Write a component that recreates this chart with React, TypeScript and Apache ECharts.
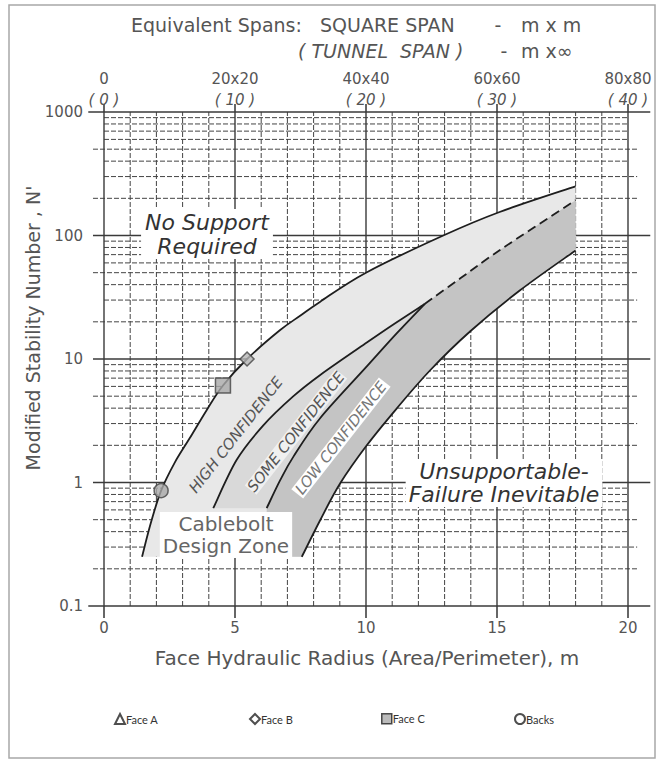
import React, { useEffect, useRef } from "react";
import * as echarts from "echarts";

// ---------- axes ----------
const X_MAJOR = [0, 5, 10, 15, 20];
const TOP_SQUARE_SPAN = ["0", "20x20", "40x40", "60x60", "80x80"];
const TOP_TUNNEL_SPAN = ["( 0 )", "( 10 )", "( 20 )", "( 30 )", "( 40 )"];
const Y_DECADES = [0.1, 1, 10, 100, 1000];
const Y_TICK_LABELS = ["0.1", "1", "10", "100", "1000"];
const MINOR_MULTIPLIERS = [2, 3, 4, 5, 6, 7, 8, 9];

// ---------- design curves [hydraulic radius (m), N'] ----------
const UPPER_BOUND = [
  [1.45, 0.25], [1.8, 0.48], [2.18, 0.86], [2.7, 1.45], [3.28, 2.3], [3.9, 3.8],
  [4.54, 6.1], [5.46, 10], [6.7, 17], [7.5, 22.5], [8.24, 29], [10.0, 50],
  [12.95, 100], [15.1, 155], [18.0, 250],
];
const HIGH_CONF_BOUND = [
  [4.17, 0.62], [5.06, 1.52], [6.08, 2.9], [7.23, 5.0], [8.24, 7.4],
  [10.03, 13.6], [11.1, 19.4], [12.25, 28],
];
const SOME_CONF_BOUND = [
  [6.21, 0.62], [6.72, 1.04], [7.23, 1.62], [8.24, 3.3], [10.03, 8.7],
  [11.17, 16.1], [12.25, 28],
];
const TRANSITION_DASHED = [[12.25, 28], [13.6, 45], [15.1, 76], [18.0, 193]];
const LOWER_BOUND = [
  [7.55, 0.25], [8.24, 0.49], [9.01, 0.98], [10.03, 2.0], [11.17, 3.97],
  [12.44, 8.07], [13.97, 16.7], [15.88, 36], [18.0, 75.7],
];
const ZONE_FLOOR = 0.25;

// ---------- case histories ----------
const FACE_A: number[][] = [];
const FACE_B = [[5.46, 10]];
const FACE_C = [[4.54, 6.1]];
const BACKS = [[2.18, 0.86]];

const FONT = '"DejaVu Sans", sans-serif';
const TXT = "#555";

function catmull(pts: number[][], move: boolean): string {
  let d = (move ? "M" : "L") + pts[0][0].toFixed(2) + "," + pts[0][1].toFixed(2);
  for (let i = 0; i < pts.length - 1; i++) {
    const p0 = pts[i - 1] || pts[i];
    const p1 = pts[i];
    const p2 = pts[i + 1];
    const p3 = pts[i + 2] || pts[i + 1];
    const c1x = p1[0] + (p2[0] - p0[0]) / 6;
    const c1y = p1[1] + (p2[1] - p0[1]) / 6;
    const c2x = p2[0] - (p3[0] - p1[0]) / 6;
    const c2y = p2[1] - (p3[1] - p1[1]) / 6;
    d +=
      "C" + c1x.toFixed(2) + "," + c1y.toFixed(2) + "," + c2x.toFixed(2) + "," +
      c2y.toFixed(2) + "," + p2[0].toFixed(2) + "," + p2[1].toFixed(2);
  }
  return d;
}

function line(a: number[], b: number[], style: any) {
  return { type: "line", shape: { x1: a[0], y1: a[1], x2: b[0], y2: b[1] }, style };
}

const renderGrid = (_params: any, api: any) => {
  const children: any[] = [];
  const solid = { stroke: "#3a3a3a", lineWidth: 1.4 };
  const dashed = { stroke: "#444", lineWidth: 1, lineDash: [5, 2] };
  for (const dec of Y_DECADES.slice(0, 4)) {
    for (const m of MINOR_MULTIPLIERS) {
      const v = dec * m;
      const x0 = m === 2 || m === 5 ? -0.42 : 0;
      const x1 = m === 2 || m === 3 || m === 5 ? 20.35 : 20;
      children.push(line(api.coord([x0, v]), api.coord([x1, v]), dashed));
    }
  }
  for (let x = 0; x <= 20; x++) {
    const major = X_MAJOR.indexOf(x) >= 0;
    children.push(line(api.coord([x, 0.1]), api.coord([x, 1000]), major ? solid : dashed));
  }
  Y_DECADES.forEach((v, i) => {
    const edge = i === 0 || i === Y_DECADES.length - 1;
    children.push(line(api.coord([edge ? -0.6 : -0.42, v]), api.coord([20.85, v]), solid));
  });
  return { type: "group", children };
};

const renderZones = (_params: any, api: any) => {
  const px = (arr: number[][]) => arr.map((p) => api.coord(p));
  const rev = (a: number[][]) => a.slice().reverse();
  const up = px(UPPER_BOUND);
  const hi = px(HIGH_CONF_BOUND);
  const so = px(SOME_CONF_BOUND);
  const da = px(TRANSITION_DASHED);
  const lo = px(LOWER_BOUND);
  const floorPt = api.coord([SOME_CONF_BOUND[0][0], ZONE_FLOOR]);

  const basePath = catmull(up, true) + catmull(rev(lo), false) + "Z";
  const somePath = catmull(hi, true) + catmull(rev(so), false) + "Z";
  const lowPath =
    catmull(so, true) + catmull(da, false) + catmull(rev(lo), false) +
    "L" + floorPt[0].toFixed(2) + "," + floorPt[1].toFixed(2) + "Z";

  const stroke = { fill: "none", stroke: "#1e1e1e", lineWidth: 1.8 };
  return {
    type: "group",
    children: [
      { type: "path", shape: { pathData: basePath }, style: { fill: "#e8e8e8" } },
      { type: "path", shape: { pathData: somePath }, style: { fill: "#d9d9d9" } },
      { type: "path", shape: { pathData: lowPath }, style: { fill: "#c4c4c4" } },
      { type: "path", shape: { pathData: catmull(up, true) }, style: stroke },
      { type: "path", shape: { pathData: catmull(hi, true) }, style: stroke },
      { type: "path", shape: { pathData: catmull(so, true) }, style: stroke },
      { type: "path", shape: { pathData: catmull(lo, true) }, style: stroke },
      { type: "path", shape: { pathData: catmull(da, true) }, style: { ...stroke, lineDash: [9, 5] } },
    ],
  };
};

function txt(text: string, x: number, y: number, size: number, extra: any = {}, align = "left") {
  return {
    type: "text",
    x,
    y,
    z: 100,
    silent: true,
    style: {
      text,
      fontSize: size,
      fontFamily: FONT,
      fill: TXT,
      align,
      verticalAlign: "middle",
      ...extra,
    },
  };
}

export default function App() {
  const ref = useRef<HTMLDivElement>(null);
  useEffect(() => {
    document.body.style.margin = "0";
    const chart = echarts.init(ref.current!, null, { renderer: "svg" });
    const deg = Math.PI / 180;
    const legendNames = ["Face A", "Face B", "Face C", "Backs"];
    const legendIcons = ["triangle", "diamond", "rect", "circle"];
    const legendLeft = [109, 244, 376, 509];
    const option: any = {
      animation: false,
      backgroundColor: "#ffffff",
      grid: { left: 104, right: 35, top: 112, bottom: 154 },
      xAxis: [
        {
          type: "value",
          position: "bottom",
          min: 0,
          max: 20,
          interval: 5,
          axisLine: { show: false },
          axisTick: { show: true, length: 12, lineStyle: { color: "#333", width: 1.5 } },
          splitLine: { show: false },
          axisLabel: { margin: 14, fontSize: 15, color: TXT, fontFamily: FONT },
        },
        {
          type: "value",
          position: "top",
          min: 0,
          max: 20,
          interval: 5,
          axisLine: { show: false },
          axisTick: { show: true, length: 8, lineStyle: { color: "#333", width: 1.5 } },
          splitLine: { show: false },
          axisLabel: {
            margin: 2,
            formatter: (v: number) => {
              const i = X_MAJOR.indexOf(v);
              return "{a|" + TOP_SQUARE_SPAN[i] + "}\n{b|" + TOP_TUNNEL_SPAN[i] + "}";
            },
            rich: {
              a: { fontSize: 15, color: TXT, fontFamily: FONT, lineHeight: 21 },
              b: { fontSize: 15, color: TXT, fontFamily: FONT, fontStyle: "italic", lineHeight: 21 },
            },
          },
        },
      ],
      yAxis: {
        type: "log",
        logBase: 10,
        min: 0.1,
        max: 1000,
        axisLine: { show: false },
        axisTick: { show: false },
        splitLine: { show: false },
        minorTick: { show: false },
        axisLabel: {
          margin: 21,
          fontSize: 15,
          color: TXT,
          fontFamily: FONT,
          formatter: (v: number) => Y_TICK_LABELS[Math.round(Math.log10(v)) + 1],
        },
      },
      legend: legendNames.map((n, i) => ({
        data: [
          {
            name: n,
            icon: legendIcons[i],
            itemStyle:
              n === "Face C"
                ? { color: "#aaaaaa", borderColor: "#222", borderWidth: 1.5 }
                : { color: "#ffffff", borderColor: "#222", borderWidth: 2 },
          },
        ],
        left: legendLeft[i],
        top: 708,
        itemWidth: 10,
        itemHeight: 10,
        selectedMode: false,
        textStyle: { fontSize: 11, color: "#333", fontFamily: "Lato, sans-serif", padding: [0, 0, 0, -4] },
      })),
      series: [
        { type: "custom", name: "grid", data: [[0, 1]], encode: { x: 0, y: 1 }, renderItem: renderGrid, silent: true, z: 1 },
        { type: "custom", name: "zones", data: [[0, 1]], encode: { x: 0, y: 1 }, renderItem: renderZones, silent: true, z: 2 },
        {
          type: "scatter", name: "Face A", data: FACE_A, symbol: "triangle", symbolSize: 12, z: 5,
          itemStyle: { color: "#aaaaaa", borderColor: "#333", borderWidth: 1.5 },
        },
        {
          type: "scatter", name: "Face B", data: FACE_B, symbol: "diamond", symbolSize: 14, z: 5,
          itemStyle: { color: "#b5b5b5", borderColor: "#444", borderWidth: 1.5 },
        },
        {
          type: "scatter", name: "Face C", data: FACE_C, symbol: "rect", symbolSize: 15, z: 5,
          itemStyle: { color: "#a8a8a8", borderColor: "#444", borderWidth: 1.5 },
        },
        {
          type: "scatter", name: "Backs", data: BACKS, symbol: "circle", symbolSize: 14, z: 5,
          itemStyle: { color: "#a8a8a8", borderColor: "#444", borderWidth: 1.5 },
        },
      ],
      graphic: {
        elements: [
          {
            type: "rect",
            silent: true,
            z: 0,
            shape: { x: 9, y: 5, width: 646, height: 753 },
            style: { fill: "none", stroke: "#a8a8a8", lineWidth: 1.5 },
          },
          txt("Equivalent Spans:", 131, 25, 19),
          txt("SQUARE SPAN", 320, 25, 19),
          txt("-", 498, 25, 19, {}, "center"),
          txt("m x m", 521, 25, 19),
          txt("( TUNNEL  SPAN )", 298, 51, 19, { fontStyle: "italic" }),
          txt("-", 504, 51, 19, {}, "center"),
          txt("m x\u221e", 521, 51, 19),
          txt("Face Hydraulic Radius (Area/Perimeter), m", 367, 658, 20, {}, "center"),
          { ...txt("Modified Stability Number , N'", 33, 328, 19, {}, "center"), rotation: 90 * deg },
          txt("No Support\nRequired", 207, 234, 22, {
            fontStyle: "italic", fill: "#333", lineHeight: 24, backgroundColor: "#fff", padding: [1, 4],
          }, "center"),
          txt("Unsupportable-\nFailure Inevitable", 504, 483, 22, {
            fontStyle: "italic", fill: "#333", lineHeight: 23, backgroundColor: "#fff", padding: [1, 3],
          }, "center"),
          txt("Cablebolt\nDesign Zone", 226, 535, 20, {
            fill: "#666", lineHeight: 22, backgroundColor: "#fff", padding: [1, 3],
          }, "center"),
          { ...txt("HIGH CONFIDENCE", 236, 435, 15, { fontStyle: "italic" }, "center"), rotation: 52 * deg },
          { ...txt("SOME CONFIDENCE", 296, 432, 15, { fontStyle: "italic", backgroundColor: "rgba(255,255,255,0.6)" }, "center"), rotation: 52 * deg },
          { ...txt("LOW CONFIDENCE", 341, 438, 15, { fontStyle: "italic", fill: "#777", backgroundColor: "#fff", padding: [0, 2] }, "center"), rotation: 52 * deg },
        ],
      },
    };
    chart.setOption(option);
    return () => chart.dispose();
  }, []);
  return <div ref={ref} style={{ width: 663, height: 760 }} />;
}
